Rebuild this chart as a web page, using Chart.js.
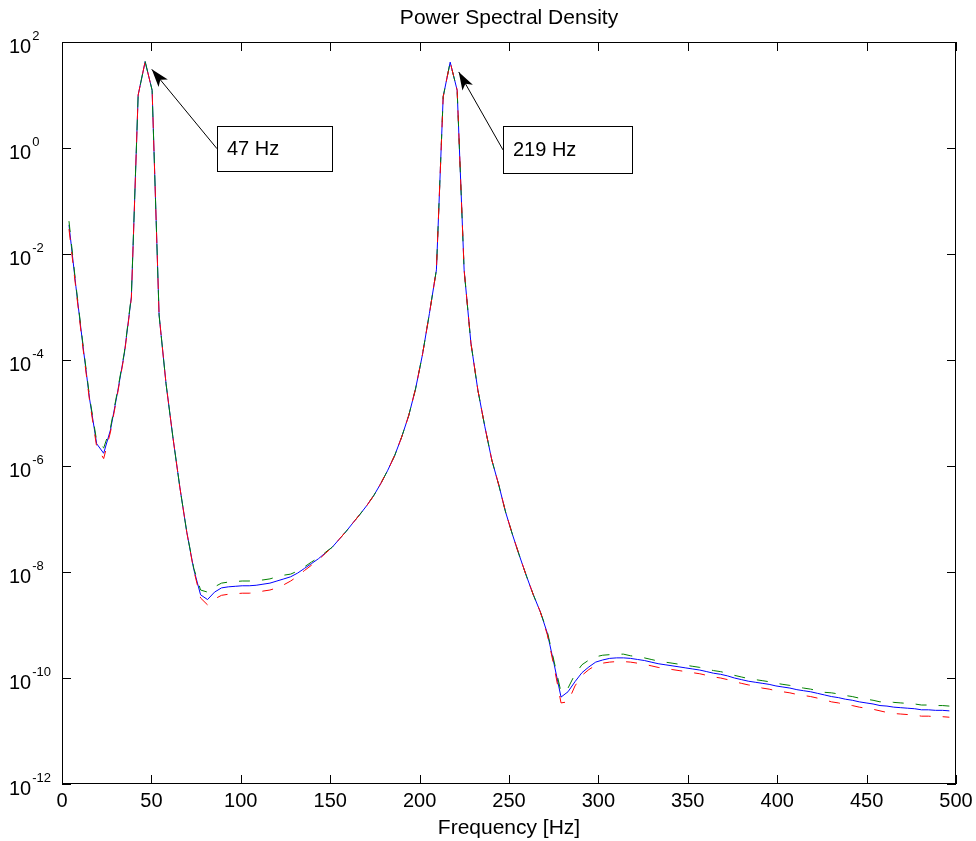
<!DOCTYPE html>
<html>
<head>
<meta charset="utf-8">
<title>Power Spectral Density</title>
<script src="https://cdn.jsdelivr.net/npm/chart.js@4.4.1/dist/chart.umd.min.js"></script>
<style>
  html, body { margin: 0; padding: 0; background: #fff; }
  #psd { display: block; }
</style>
</head>
<body>
<canvas id="psd" width="976" height="841"></canvas>
<script>
// frequency bins [Hz]
var freqs = [3.9, 7.8, 11.6, 15.5, 19.4, 23.3, 27.1, 31.0, 34.9, 38.8,
  42.6, 46.5, 50.4, 54.3, 58.2, 62.0, 65.9, 69.8, 73.7, 77.5,
  81.4, 85.3, 89.2, 93.0, 96.9, 100.8, 104.7, 108.6, 112.4, 116.3,
  120.2, 124.1, 127.9, 131.8, 135.7, 139.6, 143.4, 147.3, 151.2, 155.1,
  159.0, 162.8, 166.7, 170.6, 174.5, 178.3, 182.2, 186.1, 190.0, 193.9,
  197.7, 201.6, 205.5, 209.4, 213.2, 217.1, 221.0, 224.9, 228.7, 232.6,
  236.5, 240.4, 244.3, 248.1, 252.0, 255.9, 259.8, 263.6, 267.5, 271.4,
  275.3, 279.1, 283.0, 286.9, 290.8, 294.7, 298.5, 302.4, 306.3, 310.2,
  314.0, 317.9, 321.8, 325.7, 329.5, 333.4, 337.3, 341.2, 345.1, 348.9,
  352.8, 356.7, 360.6, 364.4, 368.3, 372.2, 376.1, 379.9, 383.8, 387.7,
  391.6, 395.5, 399.3, 403.2, 407.1, 411.0, 414.8, 418.7, 422.6, 426.5,
  430.3, 434.2, 438.1, 442.0, 445.9, 449.7, 453.6, 457.5, 461.4, 465.2,
  469.1, 473.0, 476.9, 480.7, 484.6, 488.5, 492.4, 496.3];

// log10 of the PSD
var blueLog = [-1.45, -2.62, -3.70, -4.75, -5.58, -5.76, -5.32, -4.62, -3.87, -2.81,
  1.00, 1.63, 1.09, -3.15, -4.45, -5.45, -6.40, -7.25, -7.95, -8.43,
  -8.52, -8.38, -8.30, -8.28, -8.27, -8.26, -8.26, -8.25, -8.23, -8.21,
  -8.17, -8.13, -8.09, -8.02, -7.93, -7.84, -7.75, -7.64, -7.53, -7.38,
  -7.23, -7.07, -6.91, -6.74, -6.55, -6.33, -6.08, -5.80, -5.45, -5.05,
  -4.55, -3.90, -3.12, -2.30, 0.97, 1.62, 1.09, -2.30, -3.68, -4.57,
  -5.26, -5.89, -6.36, -6.87, -7.30, -7.70, -8.08, -8.43, -8.75, -9.15,
  -9.75, -10.36, -10.26, -10.07, -9.90, -9.79, -9.70, -9.66, -9.63, -9.62,
  -9.62, -9.63, -9.65, -9.67, -9.70, -9.73, -9.75, -9.77, -9.79, -9.81,
  -9.83, -9.85, -9.88, -9.91, -9.93, -9.96, -10.00, -10.03, -10.06, -10.08,
  -10.10, -10.12, -10.15, -10.17, -10.19, -10.22, -10.24, -10.26, -10.29, -10.32,
  -10.35, -10.37, -10.40, -10.42, -10.45, -10.47, -10.49, -10.52, -10.53, -10.55,
  -10.56, -10.57, -10.58, -10.60, -10.60, -10.61, -10.61, -10.62];

var greenLog = [-1.38, -2.59, -3.67, -4.72, -5.53, -5.66, -5.28, -4.59, -3.85, -2.79,
  1.00, 1.63, 1.09, -3.15, -4.45, -5.45, -6.40, -7.25, -7.93, -8.34,
  -8.38, -8.28, -8.21, -8.19, -8.18, -8.17, -8.17, -8.16, -8.15, -8.13,
  -8.09, -8.06, -8.04, -7.98, -7.90, -7.81, -7.73, -7.63, -7.53, -7.38,
  -7.23, -7.07, -6.91, -6.74, -6.55, -6.33, -6.08, -5.80, -5.45, -5.05,
  -4.55, -3.90, -3.12, -2.30, 0.97, 1.62, 1.09, -2.30, -3.68, -4.57,
  -5.26, -5.89, -6.36, -6.87, -7.30, -7.70, -8.08, -8.43, -8.75, -9.12,
  -9.70, -10.27, -10.19, -9.93, -9.75, -9.66, -9.60, -9.57, -9.56, -9.55,
  -9.55, -9.58, -9.60, -9.62, -9.65, -9.68, -9.70, -9.72, -9.74, -9.76,
  -9.78, -9.80, -9.83, -9.86, -9.88, -9.91, -9.95, -9.98, -10.01, -10.03,
  -10.05, -10.07, -10.10, -10.12, -10.14, -10.17, -10.19, -10.21, -10.24, -10.27,
  -10.28, -10.30, -10.33, -10.35, -10.38, -10.40, -10.42, -10.45, -10.44, -10.46,
  -10.47, -10.48, -10.49, -10.51, -10.51, -10.52, -10.52, -10.53];

var redLog = [-1.53, -2.66, -3.74, -4.79, -5.64, -5.86, -5.36, -4.65, -3.89, -2.83,
  1.00, 1.63, 1.09, -3.15, -4.45, -5.45, -6.40, -7.25, -7.97, -8.49,
  -8.62, -8.51, -8.44, -8.42, -8.41, -8.40, -8.40, -8.39, -8.36, -8.34,
  -8.30, -8.24, -8.17, -8.08, -7.97, -7.87, -7.77, -7.65, -7.53, -7.38,
  -7.23, -7.07, -6.91, -6.74, -6.55, -6.33, -6.08, -5.80, -5.45, -5.05,
  -4.55, -3.90, -3.12, -2.30, 0.97, 1.62, 1.09, -2.30, -3.68, -4.57,
  -5.26, -5.89, -6.36, -6.87, -7.30, -7.70, -8.08, -8.43, -8.75, -9.18,
  -9.80, -10.47, -10.45, -10.15, -9.95, -9.84, -9.76, -9.72, -9.70, -9.69,
  -9.69, -9.70, -9.72, -9.74, -9.77, -9.80, -9.82, -9.84, -9.86, -9.88,
  -9.90, -9.92, -9.95, -9.98, -10.00, -10.03, -10.07, -10.10, -10.13, -10.15,
  -10.19, -10.21, -10.24, -10.26, -10.28, -10.31, -10.33, -10.35, -10.38, -10.41,
  -10.45, -10.47, -10.50, -10.52, -10.55, -10.57, -10.59, -10.62, -10.65, -10.67,
  -10.68, -10.69, -10.70, -10.72, -10.72, -10.73, -10.73, -10.74];

var xTicks = [0, 50, 100, 150, 200, 250, 300, 350, 400, 450, 500];
var yTickExp = [2, 0, -2, -4, -6, -8, -10, -12];

// peak annotations
var peakLabels = ['47 Hz', '219 Hz'];
var peakTipHz = [50.2, 221.9];
var peakTipVal = [30.5, 27.2];
var boxLeftHz = [86.8, 246.7];
var boxMidVal = [0.97, 0.92];

var FONT = '"Liberation Sans", Arial, Helvetica, sans-serif';

function toPoints(logs) {
  return freqs.map(function(f, i) { return {x: f, y: Math.pow(10, logs[i])}; });
}

var matlabAxes = {
  id: 'matlabAxes',
  afterDraw: function(chart) {
    var ctx = chart.ctx;
    var a = chart.chartArea;
    var xs = chart.scales.x;
    var ys = chart.scales.y;
    var tl = 9;
    ctx.save();
    ctx.strokeStyle = '#000';
    ctx.fillStyle = '#000';
    ctx.lineWidth = 1;

    //box
    ctx.strokeRect(Math.round(a.left) + 0.5, Math.round(a.top) + 0.5,
      Math.round(a.right - a.left) - 1, Math.round(a.bottom - a.top) - 1);

    //inward ticks
    ctx.beginPath();
    xTicks.forEach(function(v) {
      var px = Math.round(xs.getPixelForValue(v)) + 0.5;
      ctx.moveTo(px, a.bottom); ctx.lineTo(px, a.bottom - tl);
      ctx.moveTo(px, a.top); ctx.lineTo(px, a.top + tl);
    });
    yTickExp.forEach(function(e) {
      var py = Math.round(ys.getPixelForValue(Math.pow(10, e))) + 0.5;
      ctx.moveTo(a.left, py); ctx.lineTo(a.left + tl, py);
      ctx.moveTo(a.right, py); ctx.lineTo(a.right - tl, py);
    });
    ctx.stroke();

    //x tick labels
    ctx.font = '20px ' + FONT;
    ctx.textAlign = 'center';
    ctx.textBaseline = 'top';
    xTicks.forEach(function(v) {
      ctx.fillText(String(v), xs.getPixelForValue(v), a.bottom + 7);
    });

    //y tick labels 10^n
    ctx.textAlign = 'left';
    ctx.textBaseline = 'alphabetic';
    yTickExp.forEach(function(e) {
      var py = ys.getPixelForValue(Math.pow(10, e));
      ctx.font = '20px ' + FONT;
      ctx.fillText('10', 9, py + 11);
      var w = ctx.measureText('10').width;
      ctx.font = '13px ' + FONT;
      ctx.fillText(e < 0 ? '-' + (-e) : String(e), 9 + w + 1, py - 2);
    });

    //title and axis label
    var cx = (a.left + a.right) / 2;
    ctx.font = '21px ' + FONT;
    ctx.textAlign = 'center';
    ctx.textBaseline = 'middle';
    ctx.fillText('Power Spectral Density', cx, 18);
    ctx.fillText('Frequency [Hz]', cx, 828);

    //annotations
    var boxW = [115, 129], boxH = [45, 47];
    for (var i = 0; i < peakLabels.length; i++) {
      var tx = xs.getPixelForValue(peakTipHz[i]);
      var ty = ys.getPixelForValue(peakTipVal[i]);
      var bx = Math.round(xs.getPixelForValue(boxLeftHz[i]));
      var by = ys.getPixelForValue(boxMidVal[i]);
      var top = Math.round(by - boxH[i] / 2);

      ctx.fillStyle = '#fff';
      ctx.fillRect(bx, top, boxW[i], boxH[i]);
      ctx.strokeStyle = '#000';
      ctx.strokeRect(bx + 0.5, top + 0.5, boxW[i], boxH[i]);

      ctx.beginPath();
      ctx.moveTo(bx, by);
      ctx.lineTo(tx, ty);
      ctx.stroke();

      var ang = Math.atan2(ty - by, tx - bx);
      var L = 18, W = 6;
      var ux = Math.cos(ang), uy = Math.sin(ang);
      ctx.fillStyle = '#000';
      ctx.beginPath();
      ctx.moveTo(tx, ty);
      ctx.lineTo(tx - L * ux - W * uy, ty - L * uy + W * ux);
      ctx.lineTo(tx - 0.75 * L * ux, ty - 0.75 * L * uy);
      ctx.lineTo(tx - L * ux + W * uy, ty - L * uy - W * ux);
      ctx.closePath();
      ctx.fill();

      ctx.font = '20px ' + FONT;
      ctx.textAlign = 'left';
      ctx.textBaseline = 'middle';
      ctx.fillText(peakLabels[i], bx + 10, by + 1);
    }
    ctx.restore();
  }
};

new Chart(document.getElementById('psd'), {
  type: 'line',
  data: {
    datasets: [{
      label: 'red',
      data: toPoints(redLog),
      borderColor: '#ff0000',
      borderDash: [11, 12],
      borderWidth: 1,
      pointRadius: 0,
      fill: false
    }, {
      label: 'green',
      data: toPoints(greenLog),
      borderColor: '#008000',
      borderDash: [11, 12],
      borderWidth: 1,
      pointRadius: 0,
      fill: false
    }, {
      label: 'blue',
      data: toPoints(blueLog),
      borderColor: '#0000ff',
      borderWidth: 1,
      pointRadius: 0,
      fill: false
    }]
  },
  options: {
    responsive: false,
    animation: false,
    devicePixelRatio: 1,
    layout: { padding: { left: 62, right: 20, top: 42, bottom: 57 } },
    plugins: {
      legend: { display: false },
      title: { display: false },
      tooltip: { enabled: false }
    },
    scales: {
      x: {
        type: 'linear',
        min: 0,
        max: 500,
        grid: { display: false, drawTicks: false },
        border: { display: false },
        ticks: { display: false }
      },
      y: {
        type: 'logarithmic',
        min: 1e-12,
        max: 1e2,
        grid: { display: false, drawTicks: false },
        border: { display: false },
        ticks: { display: false },
        afterBuildTicks: function(scale) {
          scale.ticks = yTickExp.map(function(e) { return {value: Math.pow(10, e)}; });
        }
      }
    }
  },
  plugins: [matlabAxes]
});
</script>
</body>
</html>
